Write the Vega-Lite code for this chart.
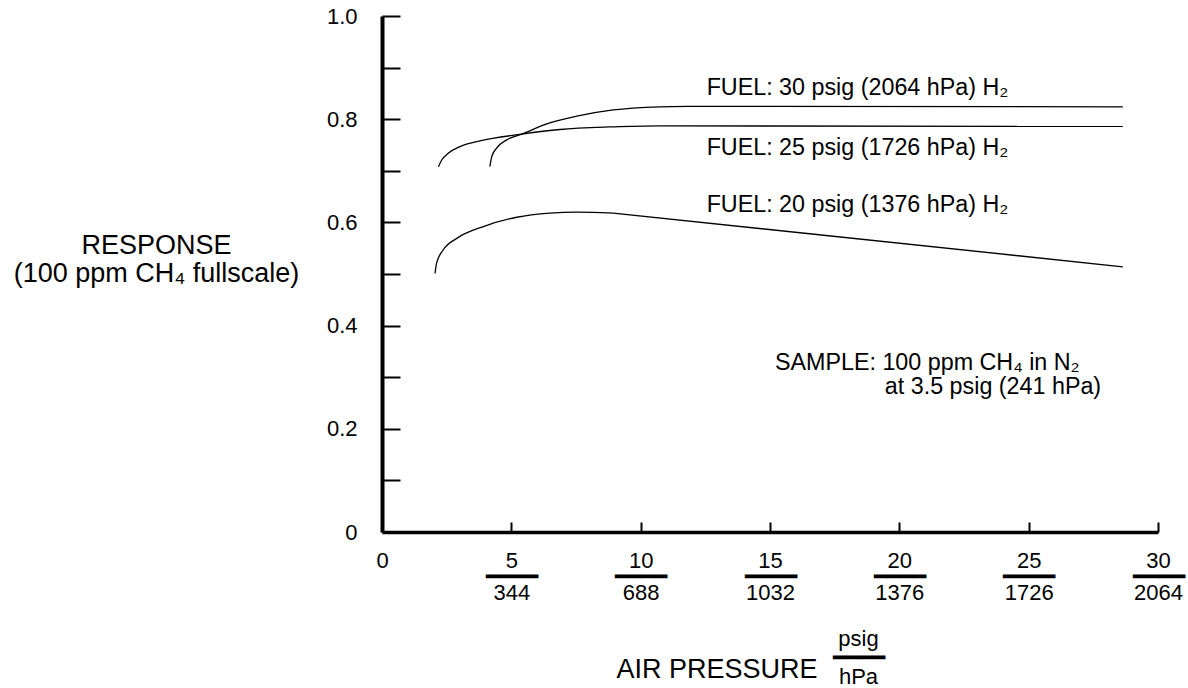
{
  "$schema": "https://vega.github.io/schema/vega-lite/v6.json",
  "width": 776,
  "height": 516,
  "autosize": {"type": "none"},
  "padding": {"left": 382, "top": 16, "right": 30, "bottom": 156},
  "background": "white",
  "config": {
    "view": {"stroke": null},
    "font": "Liberation Sans",
    "axis": {"grid": false}
  },
  "title": {
    "text": "AIR PRESSURE",
    "orient": "bottom",
    "anchor": "start",
    "frame": "group",
    "align": "center",
    "baseline": "alphabetic",
    "dx": 335,
    "dy": -13,
    "fontSize": 27,
    "fontWeight": "normal",
    "font": "Liberation Sans",
    "color": "black"
  },
  "datasets": {
    "curves": [
      {"fuel": "30", "part": "curve", "x": 4.17, "y": 0.708},
      {"fuel": "30", "part": "curve", "x": 4.24, "y": 0.727},
      {"fuel": "30", "part": "curve", "x": 4.43, "y": 0.744},
      {"fuel": "30", "part": "curve", "x": 4.82, "y": 0.760},
      {"fuel": "30", "part": "curve", "x": 5.40, "y": 0.771},
      {"fuel": "30", "part": "curve", "x": 6.37, "y": 0.791},
      {"fuel": "30", "part": "curve", "x": 7.53, "y": 0.806},
      {"fuel": "30", "part": "curve", "x": 8.94, "y": 0.818},
      {"fuel": "30", "part": "curve", "x": 10.75, "y": 0.824},
      {"fuel": "30", "part": "curve", "x": 11.83, "y": 0.825},
      {"fuel": "30", "part": "straight", "x": 11.83, "y": 0.825},
      {"fuel": "30", "part": "straight", "x": 28.64, "y": 0.824},
      {"fuel": "25", "part": "curve", "x": 2.18, "y": 0.708},
      {"fuel": "25", "part": "curve", "x": 2.31, "y": 0.721},
      {"fuel": "25", "part": "curve", "x": 2.56, "y": 0.734},
      {"fuel": "25", "part": "curve", "x": 3.02, "y": 0.747},
      {"fuel": "25", "part": "curve", "x": 3.79, "y": 0.758},
      {"fuel": "25", "part": "curve", "x": 5.40, "y": 0.771},
      {"fuel": "25", "part": "curve", "x": 6.88, "y": 0.780},
      {"fuel": "25", "part": "curve", "x": 8.81, "y": 0.785},
      {"fuel": "25", "part": "curve", "x": 10.75, "y": 0.787},
      {"fuel": "25", "part": "straight", "x": 10.75, "y": 0.787},
      {"fuel": "25", "part": "straight", "x": 28.64, "y": 0.786},
      {"fuel": "20", "part": "curve", "x": 2.05, "y": 0.501},
      {"fuel": "20", "part": "curve", "x": 2.11, "y": 0.521},
      {"fuel": "20", "part": "curve", "x": 2.37, "y": 0.547},
      {"fuel": "20", "part": "curve", "x": 2.89, "y": 0.569},
      {"fuel": "20", "part": "curve", "x": 3.92, "y": 0.592},
      {"fuel": "20", "part": "curve", "x": 5.21, "y": 0.610},
      {"fuel": "20", "part": "curve", "x": 6.49, "y": 0.618},
      {"fuel": "20", "part": "curve", "x": 7.53, "y": 0.620},
      {"fuel": "20", "part": "curve", "x": 8.94, "y": 0.618},
      {"fuel": "20", "part": "straight", "x": 8.94, "y": 0.618},
      {"fuel": "20", "part": "straight", "x": 28.64, "y": 0.514}
    ],
    "notes": [
      {"x": 12.55, "y": 0.847, "text": "FUEL: 30 psig (2064 hPa) H₂"},
      {"x": 12.55, "y": 0.731, "text": "FUEL: 25 psig (1726 hPa) H₂"},
      {"x": 12.55, "y": 0.620, "text": "FUEL: 20 psig (1376 hPa) H₂"},
      {"x": 15.19, "y": 0.314, "text": "SAMPLE: 100 ppm CH₄ in N₂"},
      {"x": 19.44, "y": 0.267, "text": "at 3.5 psig (241 hPa)"}
    ]
  },
  "layer": [
    {
      "data": {"name": "curves"},
      "transform": [{"filter": "datum.part == 'curve'"}],
      "mark": {"type": "line", "interpolate": "monotone", "color": "black", "strokeWidth": 1.3},
      "encoding": {
        "x": {
          "field": "x",
          "type": "quantitative",
          "scale": {"domain": [0, 30], "nice": false, "zero": false},
          "axis": {
            "values": [0, 5, 10, 15, 20, 25, 30],
            "labelExpr": "datum.value == 0 ? '0' : [format(datum.value, 'd'), '━━━━', datum.value == 5 ? '344' : datum.value == 10 ? '688' : datum.value == 15 ? '1032' : datum.value == 20 ? '1376' : datum.value == 25 ? '1726' : '2064']",
            "domainColor": "black",
            "domainWidth": 3.5,
            "tickColor": "black",
            "tickWidth": 2,
            "tickSize": -10,
            "labelFont": "Liberation Sans",
            "labelFontSize": 22,
            "labelColor": "black",
            "labelBaseline": "alphabetic",
            "labelAlign": "center",
            "labelPadding": 45,
            "labelLineHeight": 16,
            "labelFlush": false,
            "labelOverlap": false,
            "title": ["psig", "━━━━", "hPa"],
            "titleFont": "Liberation Sans",
            "titleFontSize": 22,
            "titleFontWeight": "normal",
            "titleColor": "black",
            "titleAlign": "center",
            "titleBaseline": "alphabetic",
            "titleLineHeight": 19,
            "titleX": 476,
            "titleY": 113
          }
        },
        "y": {
          "field": "y",
          "type": "quantitative",
          "scale": {"domain": [0, 1], "nice": false},
          "axis": {
            "values": [0, 0.1, 0.2, 0.3, 0.4, 0.5, 0.6, 0.7, 0.8, 0.9, 1],
            "labelExpr": "datum.value == 0 ? '0' : (round(datum.value * 10) % 2 == 0 ? format(datum.value, '.1f') : '')",
            "domainColor": "black",
            "domainWidth": 4,
            "tickColor": "black",
            "tickWidth": 2,
            "tickSize": -18,
            "labelFont": "Liberation Sans",
            "labelFontSize": 22,
            "labelColor": "black",
            "labelBaseline": "middle",
            "labelPadding": 43,
            "labelFlush": false,
            "labelOverlap": false,
            "title": ["RESPONSE", "(100 ppm CH₄ fullscale)"],
            "titleFont": "Liberation Sans",
            "titleFontSize": 27,
            "titleFontWeight": "normal",
            "titleColor": "black",
            "titleAngle": 0,
            "titleAlign": "center",
            "titleBaseline": "alphabetic",
            "titleLineHeight": 28,
            "titleX": -226,
            "titleY": 237
          }
        },
        "detail": {"field": "fuel"}
      }
    },
    {
      "data": {"name": "curves"},
      "transform": [{"filter": "datum.part == 'straight'"}],
      "mark": {"type": "line", "interpolate": "linear", "color": "black", "strokeWidth": 1.3},
      "encoding": {
        "x": {"field": "x", "type": "quantitative"},
        "y": {"field": "y", "type": "quantitative"},
        "detail": {"field": "fuel"}
      }
    },
    {
      "data": {"name": "notes"},
      "mark": {"type": "text", "align": "left", "baseline": "alphabetic", "fontSize": 23.3, "font": "Liberation Sans", "color": "black"},
      "encoding": {
        "x": {"field": "x", "type": "quantitative"},
        "y": {"field": "y", "type": "quantitative"},
        "text": {"field": "text"}
      }
    }
  ]
}
